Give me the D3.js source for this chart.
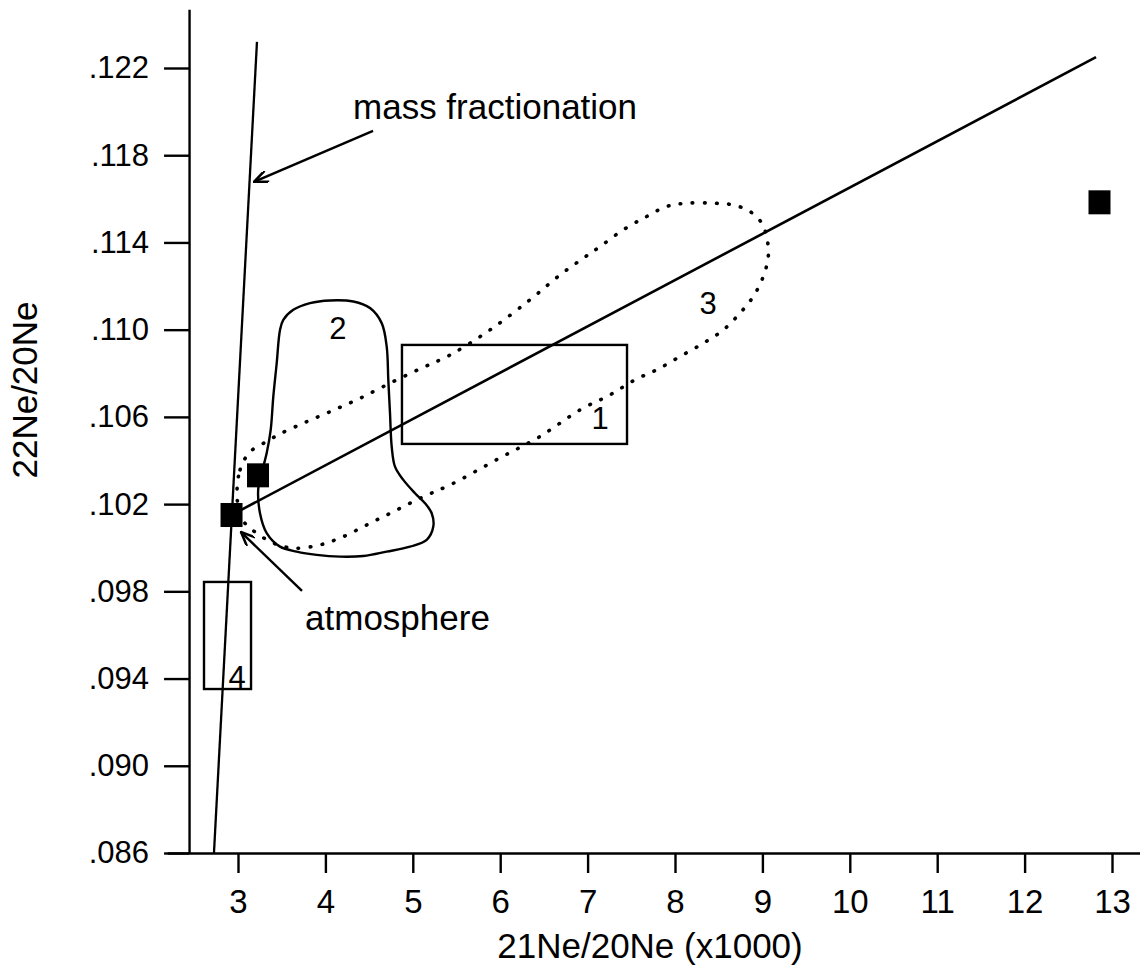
<!DOCTYPE html>
<html>
<head>
<meta charset="utf-8">
<script src="https://cdn.jsdelivr.net/npm/d3@7"></script>
<style>
  html, body { margin: 0; padding: 0; background: #fff; }
  svg { display: block; }
  text { font-family: "Liberation Sans", Arial, Helvetica, sans-serif; fill: #000; }
</style>
</head>
<body>
<svg id="chart" width="1140" height="972"></svg>
<script>
// Tick values
const xTicks = [3, 4, 5, 6, 7, 8, 9, 10, 11, 12, 13];
const yTicks = [0.086, 0.090, 0.094, 0.098, 0.102, 0.106, 0.110, 0.114, 0.118, 0.122];

// Axis extents (21Ne/20Ne x1000, 22Ne/20Ne)
const xExtent = [2.19, 13.32];
const yExtent = [0.086, 0.1247];
const yAxisAt = 2.44;

// Mass fractionation line through the atmospheric composition
const fractionationLine = [[2.725, 0.086], [3.217, 0.1232]];
// Mixing line from atmosphere
const mixingLine = [[2.926, 0.1015], [12.817, 0.1225]];

// Measured points: atmosphere, sample, high-21Ne end member
const pointsX = [2.926, 3.229, 12.857];
const pointsY = [0.1015, 0.10332, 0.11584];

// Rectangular fields 1 and 4: [x0, x1, y0, y1]
const box1 = [4.876, 7.451, 0.10476, 0.10930];
const box4 = [2.611, 3.149, 0.09352, 0.09843];

// Field 2 (solid outline)
const field2X = [3.4805, 3.4428, 3.4039, 3.3741, 3.3284, 3.2895, 3.2323, 3.2517, 3.3284, 3.4805,
  3.6716, 3.9005, 4.1670, 4.4336, 4.7014, 4.9680, 5.1591, 5.2346, 5.2163, 5.1396, 5.0252,
  4.8913, 4.7963, 4.7586, 4.7391, 4.7197, 4.7014, 4.6442, 4.5103, 4.3192, 4.0526, 3.8238,
  3.6327, 3.5183];
const field2Y = [0.10999, 0.10846, 0.10693, 0.10540, 0.10434, 0.10372, 0.10273, 0.10158, 0.10067, 0.10005,
  0.09982, 0.09967, 0.09959, 0.09962, 0.09982, 0.10005, 0.10036, 0.10097, 0.10158, 0.10204, 0.10250,
  0.10311, 0.10372, 0.10464, 0.10617, 0.10770, 0.10922, 0.11030, 0.11099, 0.11129, 0.11134, 0.11122,
  0.11091, 0.11045];

// Field 3 (dotted outline)
const field3X = [2.989, 3.023, 3.137, 3.328, 3.481, 3.747, 4.053, 4.358, 4.701, 5.082, 5.426, 5.883,
  6.341, 6.684, 6.951, 7.142, 7.408, 7.676, 7.905, 8.134, 8.438, 8.667, 8.858, 8.992, 9.049, 9.067,
  9.010, 8.896, 8.744, 8.553, 8.324, 8.057, 7.791, 7.542, 7.256, 6.913, 6.455, 5.998, 5.426, 5.120,
  4.816, 4.510, 4.205, 3.938, 3.633, 3.404, 3.214, 3.080, 3.023];
const field3Y = [0.10233, 0.10357, 0.10439, 0.10487, 0.10522, 0.10571, 0.10624, 0.10678, 0.10747, 0.10820,
  0.10884, 0.10999, 0.11137, 0.11251, 0.11328, 0.11381, 0.11458, 0.11519, 0.11565, 0.11580, 0.11580,
  0.11572, 0.11542, 0.11489, 0.11427, 0.11335, 0.11244, 0.11152, 0.11076, 0.10999, 0.10938, 0.10877,
  0.10816, 0.10770, 0.10701, 0.10632, 0.10510, 0.10412, 0.10288, 0.10234, 0.10173, 0.10112, 0.10051,
  0.10013, 0.09998, 0.10021, 0.10067, 0.10112, 0.10164];

// Field labels
const fieldLabels = ["1", "2", "3", "4"];
const fieldLabelX = [7.142, 4.144, 8.378, 2.989];
const fieldLabelY = [0.10595, 0.11008, 0.11123, 0.09407];

// Annotations: text anchor and arrow (tail -> head)
const annotations = [
  { text: "mass fractionation", tx: 4.316, ty: 0.11967, from: [4.545, 0.11912], to: [3.183, 0.11678] },
  { text: "atmosphere", tx: 3.767, ty: 0.09623, from: [3.732, 0.09802], to: [3.034, 0.10072] }
];

const xLabel = "21Ne/20Ne (x1000)";
const yLabel = "22Ne/20Ne";

const svg = d3.select("#chart");

const x = d3.scaleLinear().domain([3, 13]).range([238, 1112]);
const y = d3.scaleLinear().domain([0.086, 0.122]).range([853, 68]);

const defs = svg.append("defs");
defs.append("marker")
  .attr("id", "arrow")
  .attr("markerUnits", "userSpaceOnUse")
  .attr("viewBox", "0 -6 16 12")
  .attr("refX", 15).attr("refY", 0)
  .attr("markerWidth", 16).attr("markerHeight", 12)
  .attr("orient", "auto")
  .append("path")
  .attr("d", "M1,-6 L15,0 L1,6")
  .attr("fill", "none")
  .attr("stroke", "#000")
  .attr("stroke-width", 2.5);

// Axes
const xAxisScale = x.copy().domain(xExtent).range(xExtent.map(x));
const yAxisScale = y.copy().domain(yExtent).range(yExtent.map(y));

const gx = svg.append("g")
  .attr("transform", `translate(0,${y(yExtent[0])})`)
  .call(d3.axisBottom(xAxisScale).tickValues(xTicks).tickSize(20).tickSizeOuter(0).tickPadding(17)
    .tickFormat(d3.format("d")));
const gy = svg.append("g")
  .attr("transform", `translate(${x(yAxisAt)},0)`)
  .call(d3.axisLeft(yAxisScale).tickValues(yTicks).tickSize(25).tickSizeOuter(0).tickPadding(15)
    .tickFormat(d => d3.format(".3f")(d).replace(/^0/, "")));

[gx, gy].forEach(g => {
  g.selectAll("path.domain").attr("stroke", "#000").attr("stroke-width", 2.4);
  g.selectAll(".tick line").attr("stroke", "#000").attr("stroke-width", 2.4);
  g.selectAll(".tick text").attr("fill", "#000").style("font-family", '"Liberation Sans", Arial, sans-serif');
});
gx.selectAll(".tick text").style("font-size", "33px");
gy.selectAll(".tick text").style("font-size", "31px");

// Axis titles
svg.append("text")
  .attr("x", 650).attr("y", 958)
  .attr("text-anchor", "middle")
  .style("font-size", "35px")
  .text(xLabel);
svg.append("text")
  .attr("transform", `translate(37,${390}) rotate(-90)`)
  .attr("text-anchor", "middle")
  .style("font-size", "35px")
  .text(yLabel);

const plot = svg.append("g");
const line = d3.line().x(d => x(d[0])).y(d => y(d[1]));

// Mass fractionation and mixing lines
plot.append("path").attr("d", line(fractionationLine))
  .attr("fill", "none").attr("stroke", "#000").attr("stroke-width", 2.3);
plot.append("path").attr("d", line(mixingLine))
  .attr("fill", "none").attr("stroke", "#000").attr("stroke-width", 2.6);

// Field 3: dotted
const closed = d3.line().x(d => x(d[0])).y(d => y(d[1])).curve(d3.curveCatmullRomClosed.alpha(0.5));
plot.append("path")
  .attr("d", closed(field3X.map((v, i) => [v, field3Y[i]])))
  .attr("fill", "none").attr("stroke", "#000").attr("stroke-width", 3.6)
  .attr("stroke-linecap", "round")
  .attr("stroke-dasharray", "0.6 11.5");

// Field 2: solid
plot.append("path")
  .attr("d", closed(field2X.map((v, i) => [v, field2Y[i]])))
  .attr("fill", "none").attr("stroke", "#000").attr("stroke-width", 2.4);

// Fields 1 and 4
[box1, box4].forEach(b => {
  plot.append("rect")
    .attr("x", x(b[0])).attr("y", y(b[3]))
    .attr("width", x(b[1]) - x(b[0])).attr("height", y(b[2]) - y(b[3]))
    .attr("fill", "none").attr("stroke", "#000").attr("stroke-width", 2.4);
});

// Points
plot.selectAll("rect.pt")
  .data(pointsX.map((v, i) => [v, pointsY[i]]))
  .join("rect")
  .attr("class", "pt")
  .attr("x", d => x(d[0]) - 11).attr("y", d => y(d[1]) - 12)
  .attr("width", 22).attr("height", 24)
  .attr("fill", "#000");

// Field labels
plot.selectAll("text.flabel")
  .data(fieldLabels)
  .join("text")
  .attr("class", "flabel")
  .attr("x", (d, i) => x(fieldLabelX[i]))
  .attr("y", (d, i) => y(fieldLabelY[i]))
  .attr("dy", "0.36em")
  .attr("text-anchor", "middle")
  .style("font-size", "31px")
  .text(d => d);

// Annotations with arrows
annotations.forEach(a => {
  plot.append("text")
    .attr("x", x(a.tx)).attr("y", y(a.ty))
    .style("font-size", "35px")
    .text(a.text);
  plot.append("path")
    .attr("d", line([a.from, a.to]))
    .attr("fill", "none").attr("stroke", "#000").attr("stroke-width", 2.4)
    .attr("marker-end", "url(#arrow)");
});
</script>
</body>
</html>
